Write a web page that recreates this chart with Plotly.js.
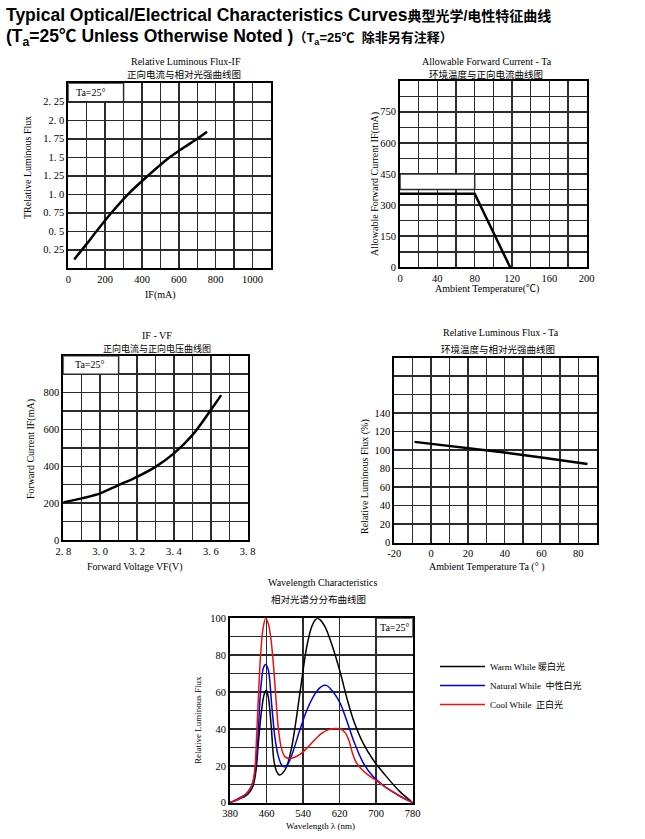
<!DOCTYPE html>
<html><head><meta charset="utf-8">
<script src="https://cdn.plot.ly/plotly-3.0.1.min.js"></script>
<style>html,body{margin:0;padding:0;background:#fff}</style>
</head><body><div id="chart" style="width:645px;height:839px"></div>
<script>
// ---------- DATA ----------
// Chart 1: Relative Luminous Flux vs IF
const c1Current = [32, 100, 153, 234, 324, 432, 550, 625, 700, 753];
const c1Flux = [0.12, 0.33, 0.5, 0.75, 1.0, 1.25, 1.5, 1.63, 1.75, 1.845];
const c1XTickVals = [0,100,200,300,400,500,600,700,800,900,1000,1100];
const c1XTickText = ['0','','200','','400','','600','','800','','1000',''];
const c1YTickVals = [0,0.25,0.5,0.75,1,1.25,1.5,1.75,2,2.25,2.5];
const c1YTickText = ['','0. 25','0. 5','0. 75','1. 0','1. 25','1. 5','1. 75','2. 0','2. 25',''];

// Chart 2: Allowable Forward Current vs Ta
const c2Temp = [0, 80, 118];
const c2Current = [355, 355, 0];
const c2XTickVals = [0,20,40,60,80,100,120,140,160,180,200];
const c2XTickText = ['0','','40','','80','','120','','160','','200'];
const c2YTickVals = [0,75,150,225,300,375,450,525,600,675,750,825,900];
const c2YTickText = ['0','','150','','300','','450','','600','','750','',''];

// Chart 3: IF vs VF
const c3Voltage = [2.8, 2.9, 3.0, 3.1, 3.2, 3.3, 3.4, 3.5, 3.6, 3.656];
const c3Current = [204, 226, 253, 298, 343, 397, 470, 569, 705, 786];
const c3XTickVals = [2.8,2.9,3.0,3.1,3.2,3.3,3.4,3.5,3.6,3.7,3.8];
const c3XTickText = ['2. 8','','3. 0','','3. 2','','3. 4','','3. 6','','3. 8'];
const c3YTickVals = [0,100,200,300,400,500,600,700,800,900,1000];
const c3YTickText = ['0','','200','','400','','600','','800','',''];

// Chart 4: Relative Luminous Flux vs Ta
const c4Temp = [-9, 0, 20, 40, 60, 85];
const c4Flux = [109, 107, 102.5, 97.5, 92, 85];
const c4XTickVals = [-20,-10,0,10,20,30,40,50,60,70,80,90];
const c4XTickText = ['-20','','0','','20','','40','','60','','80',''];
const c4YTickVals = [0,20,40,60,80,100,120,140,160,180,200];
const c4YTickText = ['0','20','40','60','80','100','120','140','','',''];

// Chart 5: Wavelength characteristics
const warmWl = [380,400,416,425,431,437,442,449,455,460,465,471,476,482,488,495,504,515,526,537,548,559,566,572,578,588,602,621,635,650,672,694,723,752,780];
const warmVal = [0,2,4,6.5,9.5,17.5,32,50,59,61,55.5,39,23,17,15,16,19.5,30,47,66.5,84.5,95.5,99,100,99,95.5,86.5,71,57.5,45,32,23,14,6,0];
const naturalWl = [380,400,416,425,431,437,442,447,453,458,464,471,478,486,493,500,508,519,533,548,566,580,592,606,621,635,650,672,694,723,752,780];
const naturalVal = [0,2.5,5,8,12,21,39,61,73,75,72,54,36,25,20.5,19.5,21.5,28.5,39.5,50,59,63,63.5,60,54,45,34,21.5,14,8,3.5,0];
const coolWl = [380,400,420,430,435,439,443,447,452,458,464,470,476,481,486,492,500,510,520,535,550,565,580,595,610,622,632,640,648,656,665,680,700,720,740,760,780];
const coolVal = [0,2,6,11,20,40,62,80,94,100,97,88,72,55,40,30,25,24,24.5,26.5,30,34,37.5,39.5,40.2,40,38,34,27,22,19,15.5,12,8.5,5.5,2.5,0];
const c5XTickVals = [380,460,540,620,700,780];
const c5XTickText = ['380','460','540','620','700','780'];
const c5YTickVals = [0,10,20,30,40,50,60,70,80,90,100];
const c5YTickText = ['0','','20','','40','','60','','80','','100'];
const seriesNames = ['Warm While 暖白光','Natural While  中性白光','Cool While  正白光'];

// ---------- LAYOUT HELPERS ----------
const W = 645, H = 839;
const FONT = 'Liberation Serif, Noto Sans CJK SC, serif';
const CJK = 'Noto Sans CJK SC, sans-serif';
const dx = (l, r) => [l / W, r / W];
const dy = (t, b) => [1 - b / H, 1 - t / H];
const px = v => v / W, py = v => 1 - v / H;

function axis(domain, range, vals, text, anchor) {
  return {
    domain, range, anchor, tickmode: 'array', tickvals: vals, ticktext: text,
    showgrid: true, gridcolor: '#2b2b2b', gridwidth: 1.5,
    showline: true, mirror: true, linecolor: '#000', linewidth: 2,
    ticks: '', zeroline: false, fixedrange: true,
    tickfont: { family: FONT, size: 10.5, color: '#000' }
  };
}

const line = (w, c) => ({ color: c || '#000', width: w });

const traces = [
  { x: c1Current, y: c1Flux, xaxis: 'x', yaxis: 'y', mode: 'lines', line: Object.assign(line(2.5), {shape: 'spline', smoothing: 0.8}), showlegend: false },
  { x: c2Temp, y: c2Current, xaxis: 'x2', yaxis: 'y2', mode: 'lines', line: line(2.5), showlegend: false },
  { x: c3Voltage, y: c3Current, xaxis: 'x3', yaxis: 'y3', mode: 'lines', line: Object.assign(line(2.5), {shape: 'spline'}), showlegend: false },
  { x: c4Temp, y: c4Flux, xaxis: 'x4', yaxis: 'y4', mode: 'lines', line: line(2.5), showlegend: false },
  { x: warmWl, y: warmVal, xaxis: 'x5', yaxis: 'y5', mode: 'lines', name: seriesNames[0], line: {color: '#000', width: 1.5, shape: 'spline', smoothing: 0.8} },
  { x: naturalWl, y: naturalVal, xaxis: 'x5', yaxis: 'y5', mode: 'lines', name: seriesNames[1], line: {color: '#0000e0', width: 1.5, shape: 'spline', smoothing: 0.8} },
  { x: coolWl, y: coolVal, xaxis: 'x5', yaxis: 'y5', mode: 'lines', name: seriesNames[2], line: {color: '#ee1111', width: 1.5, shape: 'spline', smoothing: 0.8} }
];

function ann(text, x, y, opts) {
  return Object.assign({ text, xref: 'paper', yref: 'paper', x: px(x), y: py(y), xanchor: 'center', yanchor: 'middle', showarrow: false, font: { family: FONT, size: 10, color: '#000' } }, opts || {});
}
const cjkFont = { family: CJK, size: 9.5, color: '#000' };

const annotations = [
  ann('<b>Typical Optical/Electrical Characteristics Curves</b><span style="font-size:14px"><b>典型光学/电性特征曲线</b></span>', 4, 15, { xanchor: 'left', font: { family: 'Liberation Sans, Noto Sans CJK SC, sans-serif', size: 17.5, color: '#000' } }),
  ann('<b>(T<sub>a</sub>=25℃ Unless Otherwise Noted )</b><span style="font-size:13px"><b>（T<sub>a</sub>=25℃  除非另有注释）</b></span>', 4, 38, { xanchor: 'left', font: { family: 'Liberation Sans, Noto Sans CJK SC, sans-serif', size: 17.5, color: '#000' } }),
  // chart titles
  ann('Relative Luminous Flux-IF', 186, 62),
  ann('正向电流与相对光强曲线图', 184, 74, { font: cjkFont }),
  ann('Allowable Forward Current - Ta', 487, 62),
  ann('环境温度与正向电流曲线图', 486, 74, { font: cjkFont }),
  ann('IF - VF', 157, 335),
  ann('正向电流与正向电压曲线图', 157, 348.5, { font: { family: CJK, size: 9, color: '#000' } }),
  ann('Relative Luminous Flux - Ta', 501, 332),
  ann('环境温度与相对光强曲线图', 498, 349, { font: cjkFont }),
  ann('Wavelength Characteristics', 323, 582),
  ann('相对光谱分分布曲线图', 318, 599, { font: cjkFont }),
  // axis titles
  ann('TRelative Luminous Flux', 27, 168, { textangle: -90 }),
  ann('IF(mA)', 160, 295),
  ann('Allowable Forward Current IF(mA)', 375, 184, { textangle: -90 }),
  ann('Ambient Temperature(℃)', 487, 289),
  ann('Forward Current IF(mA)', 31, 449, { textangle: -90 }),
  ann('Forward Voltage VF(V)', 135, 567),
  ann('Relative Luminous Flux (%)', 365, 477, { textangle: -90 }),
  ann('Ambient Temperature Ta (° )', 487, 567),
  ann('Relative Luminous Flux', 198, 720, { textangle: -90, font: { family: FONT, size: 9, color: '#000' } }),
  ann('Wavelength λ (nm)', 320, 826, { font: { family: FONT, size: 9, color: '#000' } }),
  // Ta labels
  ann('Ta=25°', 74, 92, { xanchor: 'left' }),
  ann('Ta=25°', 73, 364, { xanchor: 'left' }),
  ann('Ta=25°', 378, 627, { xanchor: 'left' })
];

const box = (xr, yr, x0, x1, y0, y1) => ({ type: 'rect', xref: xr, yref: yr, x0, x1, y0, y1, fillcolor: '#ffffff', opacity: 1, line: { color: '#2b2b2b', width: 1.5 }, layer: 'above' });
const shapes = [
  box('x', 'y', 0, 300, 2.25, 2.5),
  box('x2', 'y2', 0, 80, 375, 450),
  box('x3', 'y3', 2.8, 3.1, 900, 1000),
  box('x5', 'y5', 700, 780, 90, 100)
];

const layout = {
  width: W, height: H, autosize: false,
  margin: { l: 0, r: 0, t: 0, b: 0 },
  paper_bgcolor: '#fff', plot_bgcolor: '#fff',
  xaxis: axis(dx(68.3, 271), [0, 1100], c1XTickVals, c1XTickText, 'y'),
  yaxis: axis(dy(83.3, 268.3), [0, 2.5], c1YTickVals, c1YTickText, 'x'),
  xaxis2: axis(dx(400, 586.7), [0, 200], c2XTickVals, c2XTickText, 'y2'),
  yaxis2: axis(dy(80.7, 267.3), [0, 900], c2YTickVals, c2YTickText, 'x2'),
  xaxis3: axis(dx(63.3, 247.7), [2.8, 3.8], c3XTickVals, c3XTickText, 'y3'),
  yaxis3: axis(dy(355.7, 540), [0, 1000], c3YTickVals, c3YTickText, 'x3'),
  xaxis4: axis(dx(394.3, 596.7), [-20, 90], c4XTickVals, c4XTickText, 'y4'),
  yaxis4: axis(dy(357.7, 542.7), [0, 200], c4YTickVals, c4YTickText, 'x4'),
  xaxis5: axis(dx(230, 412.7), [380, 780], c5XTickVals, c5XTickText, 'y5'),
  yaxis5: axis(dy(618.3, 802.7), [0, 100], c5YTickVals, c5YTickText, 'x5'),
  showlegend: true,
  legend: { x: px(435), y: py(652), xanchor: 'left', yanchor: 'top', font: { family: FONT, size: 9, color: '#000' }, bgcolor: 'rgba(0,0,0,0)', itemwidth: 45, tracegroupgap: 2 },
  annotations, shapes
};

Plotly.newPlot('chart', traces, layout, { staticPlot: true, displayModeBar: false });
</script>
</body></html>
